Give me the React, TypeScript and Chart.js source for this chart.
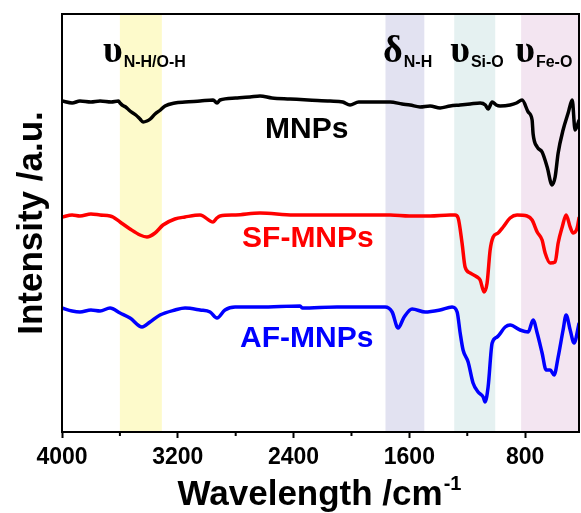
import React, { useEffect, useRef } from "react";
import { Chart, registerables } from "chart.js";

Chart.register(...registerables);

// ---- data (wavenumber cm^-1, intensity a.u.) ----
const MNPS_WN = [4000, 3930, 3876, 3800, 3737, 3660, 3610, 3599, 3585, 3560, 3530, 3490, 3461, 3440, 3413, 3390, 3357, 3320, 3288, 3220, 3150, 3046, 2956, 2929, 2908, 2800, 2701, 2632, 2550, 2424, 2300, 2148, 2060, 2010, 1950, 1871, 1733, 1650, 1595, 1526, 1457, 1388, 1319, 1250, 1180, 1111, 1075, 1056, 1028, 1000, 973, 904, 860, 821, 779, 752, 745, 717, 683, 648, 614, 593, 572, 538, 503, 475, 455, 427];
const MNPS_I = [331, 329, 331, 330, 331, 330, 331, 329, 327, 325, 321, 317, 313, 310, 311, 313, 318, 322, 326, 329, 330, 331, 332, 329, 332, 334, 335, 336, 334, 333, 332, 331, 330, 327, 330, 330, 330, 328, 327, 325, 326, 324, 326, 327, 328, 329, 327, 323, 330, 327, 326, 327, 329, 332, 320, 312, 298, 285, 280, 265, 247, 255, 279, 302, 319, 332, 302, 312];

const SF_WN = [4000, 3930, 3876, 3800, 3737, 3668, 3648, 3599, 3530, 3461, 3413, 3357, 3302, 3220, 3150, 3046, 2956, 2930, 2908, 2800, 2632, 2400, 2148, 1900, 1733, 1600, 1457, 1319, 1284, 1263, 1236, 1215, 1180, 1132, 1111, 1084, 1063, 1042, 1021, 987, 952, 904, 856, 787, 752, 717, 683, 662, 627, 593, 572, 544, 517, 489, 468, 441, 427];
const SF_I = [215, 217, 216, 218, 217, 216, 215, 210, 203, 197, 195, 199, 207, 213, 215, 217, 210, 214, 216, 217, 219, 217, 217, 217, 217, 216, 216, 217, 217, 214, 189, 165, 159, 155, 152, 140, 149, 182, 195, 199, 205, 214, 217, 216, 212, 200, 192, 179, 169, 170, 189, 205, 217, 205, 199, 204, 215];

const AF_WN = [4000, 3930, 3876, 3800, 3737, 3668, 3599, 3530, 3447, 3392, 3323, 3219, 3150, 3046, 2977, 2929, 2874, 2804, 2632, 2355, 2340, 2100, 1900, 1768, 1719, 1678, 1636, 1581, 1491, 1388, 1305, 1270, 1249, 1229, 1194, 1160, 1125, 1090, 1077, 1056, 1028, 994, 938, 904, 835, 779, 745, 717, 683, 655, 627, 600, 572, 538, 517, 489, 462, 427];
const AF_I = [124, 121, 120, 122, 121, 124, 119, 114, 105, 110, 117, 122, 124, 122, 120, 114, 122, 125, 125, 126, 124, 125, 125, 125, 120, 104, 115, 123, 120, 122, 125, 120, 99, 82, 70, 49, 40, 35, 30, 45, 89, 95, 105, 107, 102, 100, 112, 99, 79, 62, 62, 57, 75, 102, 117, 102, 89, 109];

const SERIES_NAMES = ["MNPs", "SF-MNPs", "AF-MNPs"];
const SERIES_COLORS = ["#000000", "#ff0000", "#0000ff"];
// label anchors: left wavenumber, baseline intensity
const SERIES_LABEL_WN = [2597, 2756, 2770];
const SERIES_LABEL_I = [294, 185, 85];

// highlighted bands: [from, to] wavenumbers
const BAND_FROM = [3600, 1765, 1290, 828];
const BAND_TO = [3310, 1497, 1007, 300];
const BAND_COLORS = ["rgba(253,250,200,0.95)", "rgba(224,224,240,0.95)", "rgba(228,240,240,0.95)", "rgba(242,228,240,0.95)"];
const BAND_GREEK = ["\u03c5", "\u03b4", "\u03c5", "\u03c5"];
const BAND_SUB = ["N-H/O-H", "N-H", "Si-O", "Fe-O"];
const BAND_LABEL_WN = [3717, 1782, 1318, 869];
const BAND_LABEL_I = [370, 370, 370, 370];

const X_MAX = 4000;
const X_MIN = 428;
const X_MAJOR = [4000, 3200, 2400, 1600, 800];
const X_MINOR = [3600, 2800, 2000, 1200];
const Y_MIN = 0;
const Y_MAX = 418;

const SANS = "'Liberation Sans', Arial, sans-serif";
const SERIF = "'Liberation Serif', 'Times New Roman', serif";

function pts(wn: number[], v: number[]) {
  return wn.map((x, i) => ({ x, y: v[i] }));
}

const decor = {
  id: "decor",
  beforeDatasetsDraw(chart: any) {
    const { ctx, chartArea: a, scales } = chart;
    const xs = scales.x;
    ctx.save();
    ctx.beginPath();
    ctx.rect(a.left, a.top, a.right - a.left, a.bottom - a.top);
    ctx.clip();
    BAND_FROM.forEach((f, i) => {
      const x1 = xs.getPixelForValue(f);
      const x2 = xs.getPixelForValue(BAND_TO[i]);
      ctx.fillStyle = BAND_COLORS[i];
      ctx.fillRect(Math.min(x1, x2), a.top, Math.abs(x2 - x1), a.bottom - a.top);
    });
    ctx.restore();
  },
  afterDatasetsDraw(chart: any) {
    const { ctx, scales } = chart;
    const xs = scales.x;
    const ys = scales.y;
    ctx.save();
    // band labels
    BAND_GREEK.forEach((g, i) => {
      const x = xs.getPixelForValue(BAND_LABEL_WN[i]);
      const y = ys.getPixelForValue(BAND_LABEL_I[i]);
      ctx.fillStyle = "#000";
      ctx.textBaseline = "alphabetic";
      ctx.textAlign = "left";
      ctx.font = `bold 38px ${SERIF}`;
      ctx.fillText(g, x, y);
      const w = ctx.measureText(g).width;
      ctx.font = `bold 16px ${SANS}`;
      ctx.fillText(BAND_SUB[i], x + w + 1, y + 5);
    });
    // series labels
    SERIES_NAMES.forEach((n, i) => {
      const x = xs.getPixelForValue(SERIES_LABEL_WN[i]);
      const y = ys.getPixelForValue(SERIES_LABEL_I[i]);
      ctx.fillStyle = SERIES_COLORS[i];
      ctx.font = `bold 30px ${SANS}`;
      ctx.textAlign = "left";
      ctx.textBaseline = "alphabetic";
      ctx.fillText(n, x, y);
    });
    ctx.restore();
  },
  afterDraw(chart: any) {
    const { ctx, chartArea: a, scales } = chart;
    const xs = scales.x;
    ctx.save();
    // frame
    ctx.strokeStyle = "#000";
    ctx.lineWidth = 2;
    ctx.strokeRect(a.left, a.top, a.right - a.left, a.bottom - a.top);
    // minor ticks
    X_MINOR.forEach((v) => {
      const x = xs.getPixelForValue(v);
      ctx.beginPath();
      ctx.moveTo(x, a.bottom);
      ctx.lineTo(x, a.bottom + 4);
      ctx.stroke();
    });
    // x title
    ctx.fillStyle = "#000";
    ctx.textBaseline = "alphabetic";
    ctx.textAlign = "left";
    ctx.font = `bold 35px ${SANS}`;
    const main = "Wavelength /cm";
    const tw = ctx.measureText(main).width;
    ctx.font = `bold 20px ${SANS}`;
    const sw = ctx.measureText("-1").width;
    const total = tw + sw;
    const cx = 319;
    const x0 = cx - total / 2;
    ctx.font = `bold 35px ${SANS}`;
    ctx.fillText(main, x0, 505);
    ctx.font = `bold 20px ${SANS}`;
    ctx.fillText("-1", x0 + tw + 1, 490);
    // y title
    ctx.save();
    ctx.translate(42, 223);
    ctx.rotate(-Math.PI / 2);
    ctx.font = `bold 35px ${SANS}`;
    ctx.textAlign = "center";
    ctx.textBaseline = "alphabetic";
    ctx.fillText("Intensity /a.u.", 0, 0);
    ctx.restore();
    ctx.restore();
  },
};

export default function App() {
  const ref = useRef<HTMLCanvasElement>(null);
  useEffect(() => {
    if (!ref.current) return;
    const data = [pts(MNPS_WN, MNPS_I), pts(SF_WN, SF_I), pts(AF_WN, AF_I)];
    const chart = new Chart(ref.current, {
      type: "line",
      data: {
        datasets: SERIES_NAMES.map((n, i) => ({
          label: n,
          data: data[i],
          borderColor: SERIES_COLORS[i],
          borderWidth: 3.5,
          pointRadius: 0,
          tension: 0,
          cubicInterpolationMode: "monotone" as const,
          fill: false,
        })),
      },
      options: {
        responsive: false,
        animation: false,
        layout: { padding: { top: 14, right: 2, left: 0, bottom: 0 } },
        plugins: { legend: { display: false }, tooltip: { enabled: false } },
        scales: {
          x: {
            type: "linear",
            reverse: true,
            min: X_MIN,
            max: X_MAX,
            afterBuildTicks: (s: any) => {
              s.ticks = X_MAJOR.map((v) => ({ value: v }));
            },
            afterFit: (s: any) => {
              s.height = 81;
            },
            grid: { drawOnChartArea: false, drawTicks: true, tickLength: 6, tickWidth: 2, tickColor: "#000" },
            border: { display: true, color: "#000", width: 2 },
            ticks: {
              color: "#000",
              padding: 6,
              maxRotation: 0,
              autoSkip: false,
              callback: (v: any) => String(v),
              font: { family: SANS, size: 23, weight: "bold" },
            },
          },
          y: {
            type: "linear",
            min: Y_MIN,
            max: Y_MAX,
            afterFit: (s: any) => {
              s.width = 62;
            },
            grid: { display: false },
            border: { display: true, color: "#000", width: 2 },
            ticks: { display: false },
          },
        },
      },
      plugins: [decor],
    } as any);
    return () => chart.destroy();
  }, []);
  return (
    <div style={{ position: "fixed", left: 0, top: 0, width: 581, height: 513, background: "#fff" }}>
      <canvas ref={ref} width={581} height={513} style={{ display: "block" }} />
    </div>
  );
}
